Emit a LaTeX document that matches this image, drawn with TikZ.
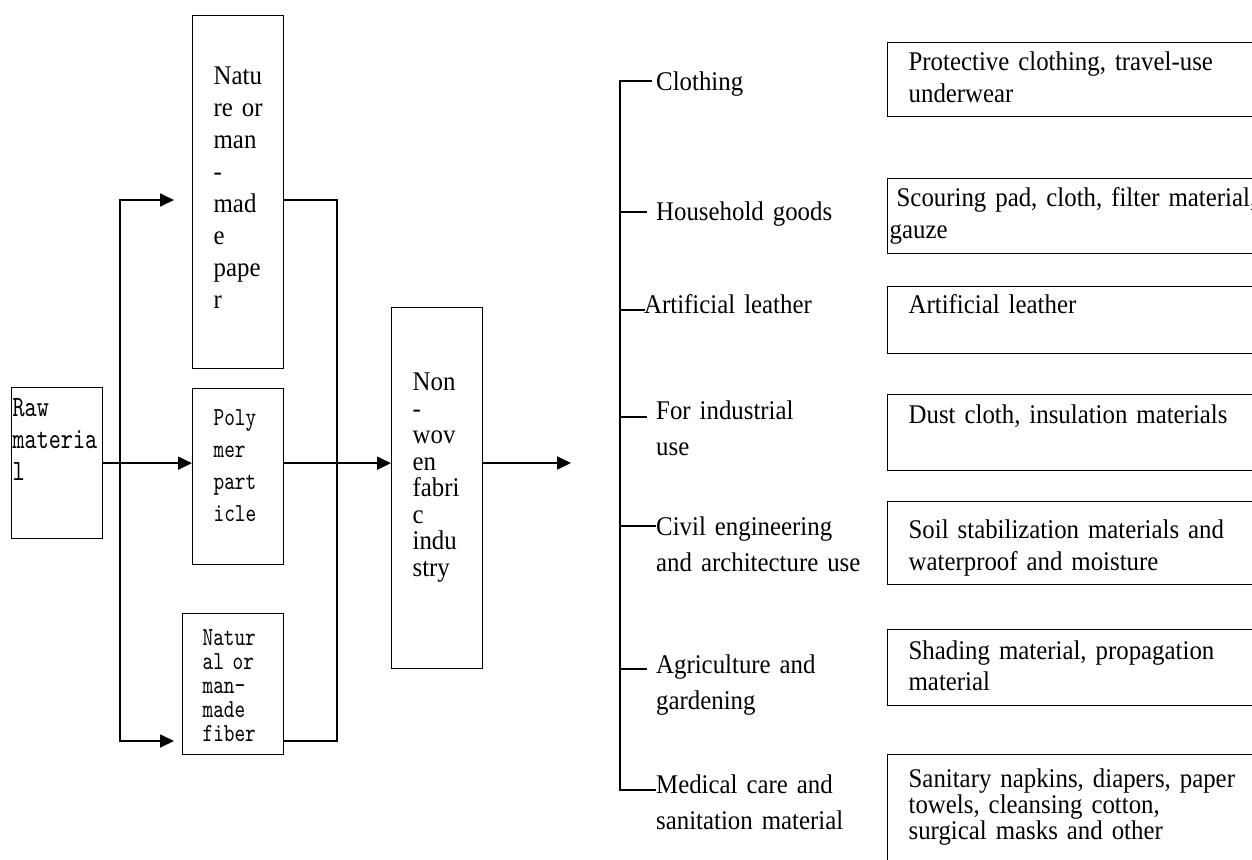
\documentclass[tikz,border=0pt]{standalone}
\usepackage{fontspec}
\setmainfont{Liberation Serif}[FakeStretch=0.92, WordSpace=0.8]
\newfontfamily\monofont{lmmono10-regular}[Extension=.otf, FakeStretch=0.78]
\usetikzlibrary{arrows.meta, positioning, calc}

\tikzset{
    box/.style={draw, line width=1.3pt, inner ysep=0pt, anchor=north west, align=left},
    serifbox/.style={box, font=\fontsize{27}{32}\selectfont},
    monobox/.style={box, font=\monofont\fontsize{26}{32}\selectfont},
    usebox/.style={serifbox, inner xsep=21pt, text width=358pt},
    item/.style={anchor=base west, inner sep=0pt, text width=240pt, align=left, font=\fontsize{27}{36}\selectfont},
    line/.style={line width=1.8pt, line cap=rect},
    arrow/.style={line, -{Triangle[length=14pt,width=13pt]}},
}

\begin{document}
\begin{tikzpicture}[x=1pt, y=-1pt]
    \useasboundingbox (0,0) rectangle (1252,859);
    \clip (0,0) rectangle (1252,859);

    % Raw material and the three kinds of input
    \node[monobox, inner xsep=1pt, text width=89pt, text height=29pt, text depth=122pt,
          font=\monofont\fontsize{29.5}{32}\selectfont] (raw) at (11,387) {Raw\\materia\\l};
    \node[serifbox, inner xsep=21pt, text width=49pt, text height=69pt, text depth=284pt]
        (paper) at (192,15) {Natu\\re~or\\man\\-\\mad\\e\\pape\\r};
    \node[monobox, inner xsep=21pt, text width=49pt, text height=37pt, text depth=139pt]
        (polymer) at (192,388) {Poly\\mer\\part\\icle};
    \node[monobox, inner xsep=20pt, text width=61pt, text height=32pt, text depth=109pt,
          font=\monofont\fontsize{26}{24}\selectfont] (fiber) at (182,613) {Natur\\al~or\\man-\\made\\fiber};
    \node[serifbox, inner xsep=21pt, text width=49pt, text height=83pt, text depth=278pt,
          font=\fontsize{27}{26.5}\selectfont] (nonwoven) at (391,307) {Non\\-\\wov\\en\\fabri\\c\\indu\\stry};

    % Connectors
    \coordinate (ltop) at (120,200);
    \coordinate (lbot) at (120,741);
    \coordinate (rtop) at (337,200);
    \coordinate (rbot) at (337,741);
    \coordinate (out) at (571,463);
    \draw[line] (ltop) -- (lbot);
    \draw[arrow, shorten >=18pt] (ltop) -- (ltop -| paper.west);
    \draw[arrow, shorten >=8pt] (lbot) -- (lbot -| fiber.west);
    \draw[arrow] (raw.east) -- (raw.east -| polymer.west);
    \draw[line] (rtop -| paper.east) -- (rtop) -- (rbot) -- (rbot -| fiber.east);
    \draw[arrow] (polymer.east |- raw.east) -- (nonwoven.west |- raw.east);
    \draw[arrow] (nonwoven.east |- out) -- (out);

    % Fields of use
    \foreach \i/\ty/\ly/\lx/\gap/\txt in {
        1/81/90/656/5/Clothing,
        2/212/220/656/10/Household goods,
        3/310/313/644/0/Artificial leather,
        4/417/419/656/10/{For industrial\\use},
        5/526/535/656/1/{Civil engineering\\and architecture use},
        6/669/673/656/10/{Agriculture and\\gardening},
        7/790/793/656/1/{Medical care and\\sanitation material}} {
        \node[item] (lbl\i) at (\lx,\ly) {\txt};
        \coordinate (tick\i) at (620,\ty);
        \draw[line, shorten >=\gap pt] (tick\i) -- (tick\i -| lbl\i.west);
    }
    \draw[line] (tick1) -- (tick7);

    % Products
    \node[usebox, text height=28pt, text depth=46pt] (use1) at (887,42)
        {Protective clothing, travel-use\\underwear};
    \node[usebox, inner xsep=2pt, text width=396pt, text height=28pt, text depth=47pt] (use2) at (887,178)
        {\hspace*{7pt}Scouring pad, cloth, filter material,\\gauze};
    \node[usebox, text height=27pt, text depth=40pt] (use3) at (887,286) {Artificial leather};
    \node[usebox, text height=29pt, text depth=47pt] (use4) at (887,394) {Dust cloth, insulation materials};
    \node[usebox, text height=37pt, text depth=46pt] (use5) at (887,501)
        {Soil stabilization materials and\\waterproof and moisture};
    \node[usebox, text height=30pt, text depth=46pt, font=\fontsize{27}{31}\selectfont] (use6) at (887,629)
        {Shading material, propagation\\material};
    \node[usebox, text height=33pt, text depth=97pt, font=\fontsize{27}{26}\selectfont] (use7) at (887,754)
        {Sanitary napkins, diapers, paper\\towels, cleansing cotton,\\surgical masks and other};
\end{tikzpicture}
\end{document}
